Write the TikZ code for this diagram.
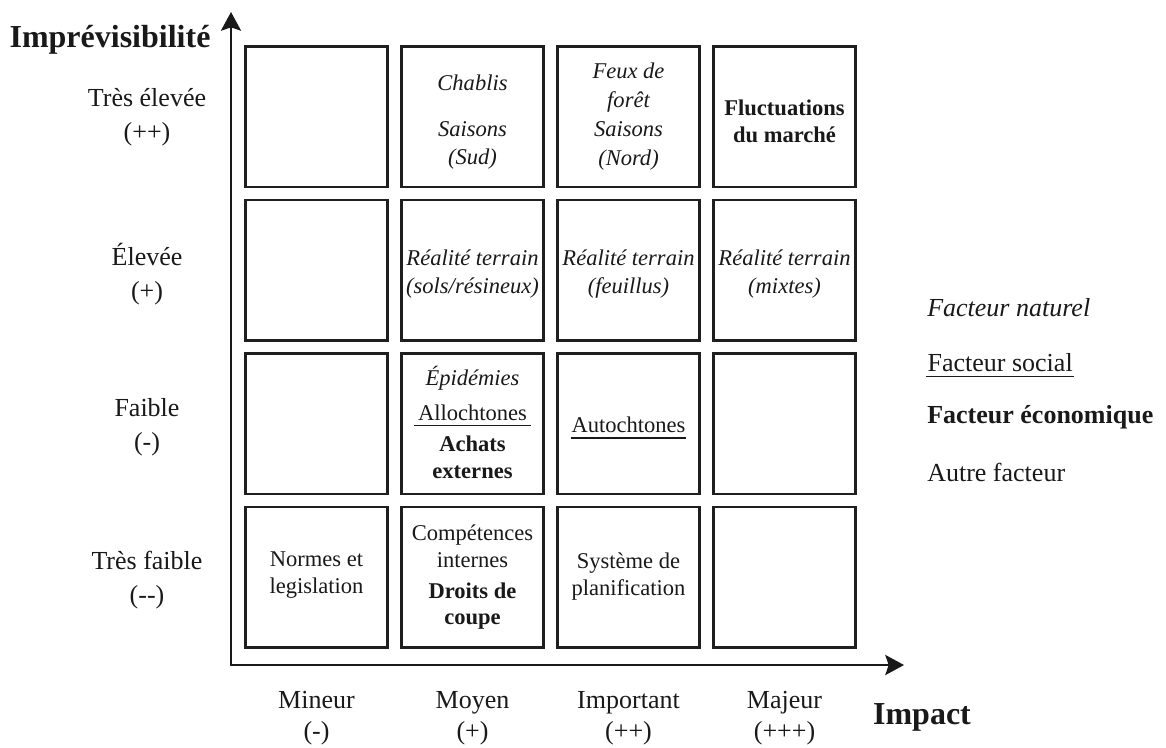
\documentclass[tikz,border=0pt]{standalone}
\usepackage{fontspec}
\setmainfont{Liberation Serif}
\usetikzlibrary{arrows.meta}

\begin{document}
\begin{tikzpicture}[x=0.75pt,y=-0.75pt,
  cell/.style={draw=black!88, line width=1.6pt, minimum width=106.5pt,
    minimum height=105.4pt, inner sep=0pt},
  boxtxt/.style={align=center, inner sep=1pt, text=black!90,
    font=\fontsize{16.9}{21}\selectfont},
  axislabel/.style={align=center, inner sep=1pt, text=black!90,
    font=\fontsize{19.5}{25.5}\selectfont},
  impactlabel/.style={align=center, inner sep=1pt, text=black!90,
    font=\fontsize{19.5}{23}\selectfont},
  axistitle/.style={inner sep=1pt, text=black!90,
    font=\fontsize{24}{28}\selectfont\bfseries},
  legendtxt/.style={anchor=west, inner sep=0pt, text=black!90,
    font=\fontsize{19.5}{24}\selectfont},
  axis/.style={line width=2pt, draw=black!90, line join=miter,
    {Stealth[length=14pt,width=15pt,inset=2.5pt]}-{Stealth[length=14pt,width=15pt,inset=2.5pt]}},
  uline/.style={line width=1.3pt, draw=black!90}
]
\fill[white] (0,0) rectangle (1166,747);
\useasboundingbox (0,0) rectangle (1166,747);

% axes
\coordinate (O) at (231,665);
\coordinate (ytip) at (231,12);
\coordinate (xtip) at (904,665);
\draw[axis] (ytip) -- (O) -- (xtip);

% grid of cells: c<row><col>, row 1 at the top
\foreach \r in {1,...,4}
  \foreach \c in {1,...,4}
    \node[cell] (c\r\c) at ({316.5+156*(\c-1)},{116.75+153.5*(\r-1)}) {};

% axis titles
\node[axistitle] (ytitle) at (110,40) {Imprévisibilité};
\node[axistitle] (xtitle) at (922,717) {Impact};

% unpredictability levels
\node[axislabel] (l1) at (147,117) {Très élevée\\(++)};
\node[axislabel] (l2) at (147,274.5) {Élevée\\(+)};
\node[axislabel] (l3) at (147,427.5) {Faible\\(-)};
\node[axislabel] (l4) at (147,580) {Très faible\\(-{}-)};

% impact levels
\node[impactlabel] (i1) at (316.5,718) {Mineur\\(-)};
\node[impactlabel] (i2) at (472.5,718) {Moyen\\(+)};
\node[impactlabel] (i3) at (628.5,718) {Important\\(++)};
\node[impactlabel] (i4) at (784.5,718) {Majeur\\(+++)};

% row 1
\node[boxtxt, font=\fontsize{16.9}{21.5}\selectfont\itshape] (t12) at (472.5,122)
  {Chablis\\[13pt]Saisons\\(Sud)};
\node[boxtxt, font=\fontsize{16.9}{21.8}\selectfont\itshape] (t13) at (628.5,116.5)
  {Feux de\\forêt\\Saisons\\(Nord)};
\node[boxtxt, font=\fontsize{16.9}{20.5}\selectfont\bfseries] (t14) at (784.5,121.5)
  {Fluctuations\\du marché};

% row 2
\node[boxtxt, font=\fontsize{16.9}{21}\selectfont\itshape] (t22) at (472.5,274)
  {Réalité terrain\\(sols/résineux)};
\node[boxtxt, font=\fontsize{16.9}{21}\selectfont\itshape] (t23) at (628.5,274)
  {Réalité terrain\\(feuillus)};
\node[boxtxt, font=\fontsize{16.9}{21}\selectfont\itshape] (t24) at (784.5,274)
  {Réalité terrain\\(mixtes)};

% row 3
\node[boxtxt, font=\fontsize{16.9}{21}\selectfont\itshape] (t32a) at (472.5,378) {Épidémies};
\node[boxtxt, inner xsep=3pt] (t32b) at (472.5,413) {Allochtones};
\draw[uline] ([yshift=-3.5pt]t32b.base west) -- ([yshift=-3.5pt]t32b.base east);
\node[boxtxt, font=\fontsize{16.9}{20.3}\selectfont\bfseries] (t32c) at (472.5,457.5)
  {Achats\\externes};
\node[boxtxt, inner xsep=0.5pt] (t33) at (628.5,425) {Autochtones};
\draw[uline] ([yshift=-3.8pt]t33.base west) -- ([yshift=-3.8pt]t33.base east);

% row 4
\node[boxtxt, font=\fontsize{16.9}{19.8}\selectfont] (t41) at (316.5,575)
  {Normes et\\legislation};
\node[boxtxt, font=\fontsize{16.9}{20.3}\selectfont] (t42a) at (472.5,546.5)
  {Compétences\\internes};
\node[boxtxt, font=\fontsize{16.9}{19.8}\selectfont\bfseries] (t42b) at (472.5,606)
  {Droits de\\coupe};
\node[boxtxt, font=\fontsize{16.9}{20.3}\selectfont] (t43) at (628.5,576.5)
  {Système de\\planification};

% legend
\node[legendtxt, font=\fontsize{19.5}{24}\selectfont\itshape] (g1) at (927,308) {Facteur naturel};
\node[legendtxt, inner xsep=1pt] (g2) at (926,363) {Facteur social};
\draw[uline] ([yshift=-3.5pt]g2.base west) -- ([yshift=-3.5pt]g2.base east);
\node[legendtxt, font=\fontsize{19.5}{24}\selectfont\bfseries] (g3) at (927,417) {Facteur économique};
\node[legendtxt] (g4) at (927,472) {Autre facteur};
\end{tikzpicture}
\end{document}
